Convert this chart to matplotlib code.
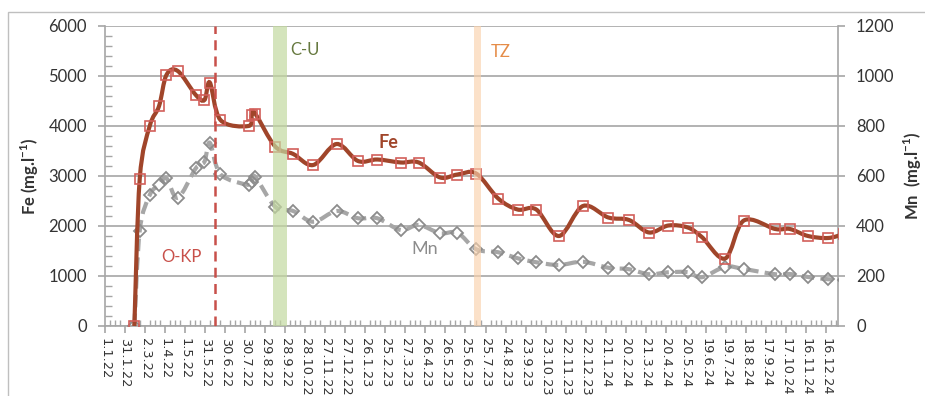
import matplotlib
matplotlib.use("Agg")
import matplotlib.pyplot as plt
import numpy as np
import pandas as pd
import matplotlib.dates as mdates
from matplotlib.path import Path
from matplotlib.patches import PathPatch, Rectangle

plt.rcParams['font.family'] = ['Lato', 'DejaVu Sans']
plt.rcParams['mathtext.fontset'] = 'custom'
plt.rcParams['mathtext.rm'] = 'Lato'
plt.rcParams['mathtext.bf'] = 'Lato:bold'

# sampling dates
dates = ["2022-02-14", "2022-02-22", "2022-03-09", "2022-03-23", "2022-04-03",
         "2022-04-20", "2022-05-17", "2022-05-30", "2022-06-07", "2022-06-23",
         "2022-08-04", "2022-08-09", "2022-08-14", "2022-09-13", "2022-10-10",
         "2022-11-09", "2022-12-14", "2023-01-15", "2023-02-13", "2023-03-20",
         "2023-04-16", "2023-05-18", "2023-06-13", "2023-07-11", "2023-08-13",
         "2023-09-11", "2023-10-09", "2023-11-12", "2023-12-18", "2024-01-25",
         "2024-02-25", "2024-03-26", "2024-04-24", "2024-05-23", "2024-06-13",
         "2024-07-18", "2024-08-15", "2024-10-01", "2024-10-23", "2024-11-19",
         "2024-12-19", "2025-01-12"]

fe = [0, 2940, 4000, 4400, 5020, 5100, 4620, 4520, 4870, 4120,
      4000, 4220, 4250, 3590, 3440, 3220, 3640, 3300, 3330, 3270,
      3270, 2970, 3030, 3050, 2550, 2330, 2330, 1800, 2400, 2170,
      2120, 1870, 2010, 1970, 1780, 1350, 2110, 1940, 1940, 1800,
      1760, 1840]

mn = [0, 381, 524, 564, 591, 513, 631, 657, 733, 607,
      564, 577, 597, 477, 460, 417, 460, 431, 431, 384,
      404, 371, 373, 307, 295, 271, 255, 244, 257, 233,
      227, 207, 215, 215, 195, 237, 228, 207, 208, 196,
      187, 185]

# events
okp_date = "2022-06-15"
cu_span = ("2022-09-09", "2022-10-01")
tz_span = ("2023-07-07", "2023-07-18")

x_start = "2022-01-01"
x_end = "2025-01-03"

FE_LINE = "#a0452a"
FE_MARK = "#d25f5a"
MN_LINE = "#a6a6a6"
MN_MARK = "#8c8c8c"
GRID = "#a6a6a6"
TXT = "#333333"


def smooth_path(x, y):
    # Bezier curve through the points (Catmull-Rom style control points)
    pts = np.column_stack([x, y])
    n = len(pts)
    verts = [pts[0]]
    codes = [Path.MOVETO]
    for i in range(n - 1):
        p0 = pts[max(i - 1, 0)]
        p1 = pts[i]
        p2 = pts[i + 1]
        p3 = pts[min(i + 2, n - 1)]
        c1 = p1 + (p2 - p0) / 6.0
        c2 = p2 - (p3 - p1) / 6.0
        verts += [c1, c2, p2]
        codes += [Path.CURVE4] * 3
    return Path(np.array(verts), codes)


def dnum(s):
    return mdates.date2num(pd.Timestamp(s))


xd = mdates.date2num(pd.to_datetime(dates))

fig = plt.figure(figsize=(9.25, 3.96), dpi=100)
ax = fig.add_axes([105 / 925, 1 - 326 / 396, (838 - 105) / 925, 300 / 396])
ax2 = ax.twinx()

ax.set_xlim(dnum(x_start), dnum(x_end))
ax.set_ylim(0, 6000)
ax2.set_ylim(0, 1200)

# frame around the chart area
fig.patches.append(Rectangle((8 / 925, -0.1), 1.1, 1.1 - 12 / 396, transform=fig.transFigure,
                             fill=False, edgecolor="#bfbfbf", lw=1.0))

ax.yaxis.grid(True, color=GRID, lw=1.2)
ax.set_axisbelow(True)
ax.set_yticks(np.arange(0, 6001, 1000))
ax.set_yticks(np.arange(0, 6001, 200), minor=True)
ax2.set_yticks(np.arange(0, 1201, 200))

ticks = pd.date_range(x_start, periods=37, freq="30D")
ax.set_xticks(mdates.date2num(ticks))
ax.set_xticklabels([f"{d.day}.{d.month}.{d.strftime('%y')}" for d in ticks],
                   rotation=-90, fontsize=9.3, family="DejaVu Sans", color=TXT)
minor = pd.date_range(x_start, x_end, freq="7.5D")
ax.set_xticks(mdates.date2num(minor), minor=True)

for a in (ax, ax2):
    for s in a.spines.values():
        s.set_color(GRID)
        s.set_linewidth(1.2)
    a.spines["top"].set_visible(False)
ax.spines["right"].set_visible(False)
ax2.spines["left"].set_visible(False)
ax2.spines["bottom"].set_visible(False)

ax.tick_params(axis="y", which="major", direction="out", length=5, width=1.2, color=GRID,
               labelsize=12, labelcolor=TXT, pad=8)
ax.tick_params(axis="y", which="minor", direction="in", length=5, width=1, color=GRID)
ax.tick_params(axis="x", which="major", direction="out", length=5, width=1.2, color=GRID, pad=4)
ax.tick_params(axis="x", which="minor", direction="in", length=4, width=1, color=GRID)
ax2.tick_params(axis="y", direction="out", length=5, width=1.2, color=GRID,
                labelsize=12, labelcolor=TXT, pad=8)

ax.set_ylabel(r"Fe (mg.l$^{\mathbf{-1}}$)", fontsize=12, fontweight="bold", color=TXT)
ax2.set_ylabel(r"Mn  (mg.l$^{\mathbf{-1}}$)", fontsize=12, fontweight="bold", color=TXT)
ax.yaxis.set_label_coords(-0.087, 0.5)
ax2.yaxis.set_label_coords(1.087, 0.5)

# Mn series (right axis)
ax2.add_patch(PathPatch(smooth_path(xd, mn), fill=False, edgecolor=MN_LINE, lw=3,
                        linestyle=(0, (3, 1.5)), zorder=2))
ax2.plot(xd, mn, linestyle="none", marker="D", markersize=6, markerfacecolor="none",
         markeredgecolor=MN_MARK, markeredgewidth=1.3, zorder=3)

# Fe series (left axis), drawn on top
ax2.add_patch(PathPatch(smooth_path(xd, fe), fill=False, edgecolor=FE_LINE, lw=3,
                        transform=ax.transData, zorder=4))
ax2.plot(xd, fe, linestyle="none", marker="s", markersize=7.5, markerfacecolor="none",
         markeredgecolor=FE_MARK, markeredgewidth=1.2, transform=ax.transData, zorder=5)

# event markers
cu = mdates.date2num(pd.to_datetime(list(cu_span)))
tz = mdates.date2num(pd.to_datetime(list(tz_span)))
ax2.axvspan(cu[0], cu[1], color="#c3d9a0", alpha=0.7, lw=0, zorder=6)
ax2.axvspan(tz[0], tz[1], color="#fad2ad", alpha=0.65, lw=0, zorder=6)
okp = dnum(okp_date)
ax2.axvline(okp, color="#c8504a", lw=1.8, linestyle=(0, (4, 2.5)), zorder=7)

ax2.text(cu[1] + 4, 1105, "C-U", fontsize=12, color="#66793f", va="center", ha="left")
ax2.text(tz[1] + 15, 1095, "TZ", fontsize=12, color="#e58c48", va="center", ha="left")
ax2.text(okp - 20, 278, "O-KP", fontsize=12, color="#c8504a", va="center", ha="right")
ax.text(dnum("2023-02-14"), 3660, "Fe", fontsize=13, fontweight="bold",
        color=FE_LINE, va="center", ha="left")
ax.text(dnum("2023-04-05"), 1540, "Mn", fontsize=13,
        color="#8c8c8c", va="center", ha="left")

fig.savefig("out.png", dpi=100)
